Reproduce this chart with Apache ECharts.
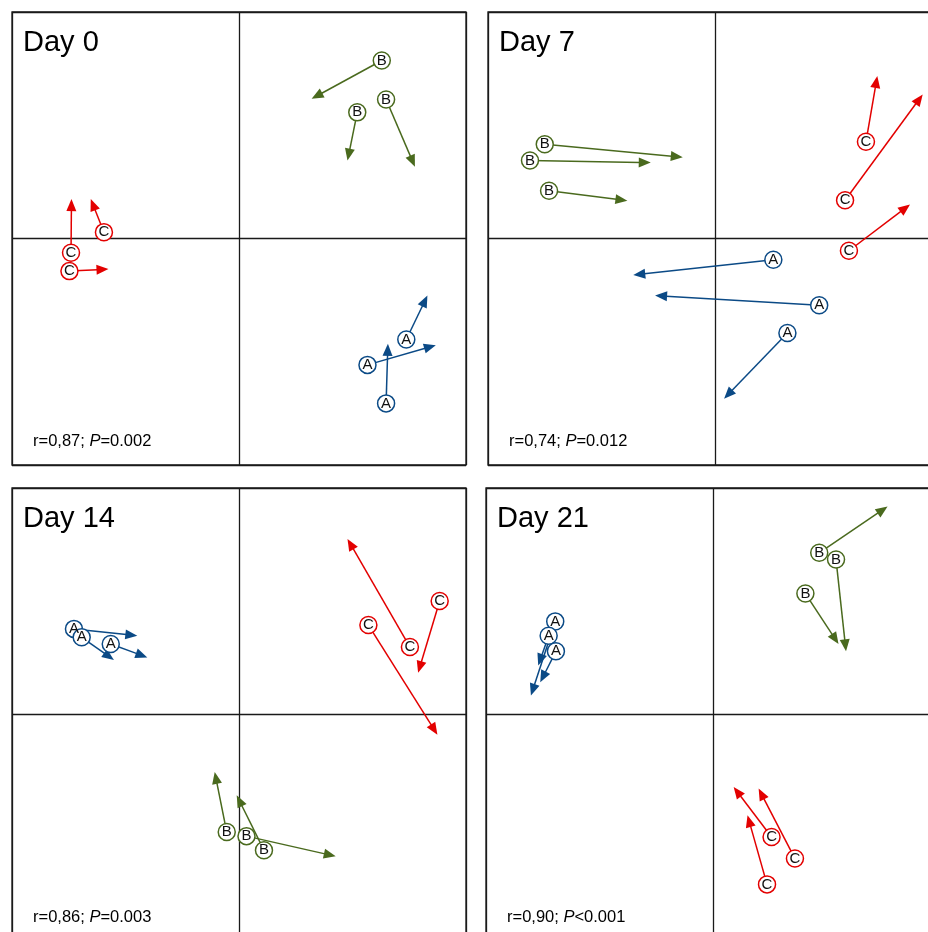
<!DOCTYPE html>
<html>
<head>
<meta charset="utf-8">
<script src="https://cdn.jsdelivr.net/npm/echarts@6/dist/echarts.min.js"></script>
<style>
html,body{margin:0;padding:0;background:#fff;overflow:hidden;width:928px;height:932px;}
#chart{width:950px;height:950px;}
</style>
</head>
<body>
<div id="chart"></div>
<script>
// Panel titles and statistics
const panelTitles = ['Day 0', 'Day 7', 'Day 14', 'Day 21'];
const statR = ['0,87', '0,74', '0,86', '0,90'];
const statP = ['=0.002', '=0.012', '=0.003', '<0.001'];
const groupLabels = ['A', 'B', 'C'];

// Each arrow: [startX, startY, endX, endY] (ordination units)
const day0A = [[7.37,-4.46, 8.30,-2.52], [5.66,-5.58, 8.67,-4.71], [6.48,-7.28, 6.56,-4.65]];
const day0B = [[6.29,7.86, 3.20,6.17], [5.21,5.57, 4.78,3.44], [6.48,6.14, 7.75,3.17]];
const day0C = [[-5.95,0.28, -6.53,1.74], [-7.40,-0.63, -7.38,1.74], [-7.47,-1.44, -5.75,-1.35]];

const day7A = [[2.57,-0.94, -3.60,-1.61], [4.59,-2.95, -2.64,-2.52], [3.19,-4.17, 0.40,-7.07]];
const day7B = [[-7.50,4.16, -1.42,3.59], [-8.15,3.44, -2.83,3.35], [-7.31,2.11, -3.86,1.67]];
const day7C = [[6.65,4.27, 7.15,7.17], [5.73,1.69, 9.15,6.36], [5.90,-0.54, 8.59,1.50]];

const day14A = [[-7.27,3.78, -4.48,3.48], [-6.93,3.41, -5.51,2.41], [-5.65,3.11, -4.04,2.52]];
const day14B = [[-0.54,-5.19, -1.07,-2.54], [0.33,-5.37, 4.26,-6.26], [1.10,-5.99, -0.10,-3.57]];
const day14C = [[8.84,5.01, 7.89,1.84], [7.53,2.98, 4.78,7.75], [5.70,3.95, 8.74,-0.89]];

const day21A = [[-6.95,4.11, -8.02,0.84], [-7.24,3.48, -7.70,2.16], [-6.92,2.79, -7.61,1.42]];
const day21B = [[4.68,7.14, 7.69,9.18], [5.42,6.84, 5.86,2.79], [4.07,5.34, 5.53,3.11]];
const day21C = [[2.58,-5.41, 0.91,-3.20], [3.61,-6.36, 2.01,-3.27], [2.38,-7.50, 1.52,-4.45]];

const axisMin = -10, axisMax = 10, axisInterval = 10;

const panelData = [
  [day0A, day0B, day0C],
  [day7A, day7B, day7C],
  [day14A, day14B, day14C],
  [day21A, day21B, day21C]
];
const groupColors = ['#0b4a86', '#4a6a1e', '#e30000'];

const gridPos = [
  {left: 12, top: 12},
  {left: 488, top: 12},
  {left: 12, top: 488},
  {left: 486, top: 488}
];
const boxW = 454, boxH = 453;
const fontFam = '"Liberation Sans", Arial, sans-serif';

const grids = [], xAxes = [], yAxes = [], series = [], graphics = [];

gridPos.forEach((g, i) => {
  grids.push({left: g.left, top: g.top, width: boxW, height: boxH, show: true,
    borderColor: '#1a1a1a', borderWidth: 1.3, backgroundColor: 'transparent',
    containLabel: false, outerBoundsMode: 'none'});
  const ax = {
    type: 'value', gridIndex: i, min: axisMin, max: axisMax, interval: axisInterval,
    axisLine: {show: false}, axisTick: {show: false}, axisLabel: {show: false},
    splitLine: {show: true, lineStyle: {color: '#1a1a1a', width: 1.3}}
  };
  xAxes.push(Object.assign({}, ax));
  yAxes.push(Object.assign({}, ax));

  panelData[i].forEach((arr, gi) => {
    const color = groupColors[gi];
    series.push({
      type: 'custom', xAxisIndex: i, yAxisIndex: i, z: 2, silent: true,
      data: arr,
      renderItem: function (params, api) {
        const p0 = api.coord([api.value(0), api.value(1)]);
        const p1 = api.coord([api.value(2), api.value(3)]);
        const dx = p1[0] - p0[0], dy = p1[1] - p0[1];
        const L = Math.hypot(dx, dy) || 1;
        const ux = dx / L, uy = dy / L;
        const hl = 12, hw = 5;
        const bx = p1[0] - ux * hl, by = p1[1] - uy * hl;
        return {
          type: 'group',
          children: [
            {type: 'line', shape: {x1: p0[0], y1: p0[1], x2: bx + ux * 1, y2: by + uy * 1},
              style: {stroke: color, lineWidth: 1.5}},
            {type: 'polygon', shape: {points: [[p1[0], p1[1]], [bx - uy * hw, by + ux * hw], [bx + uy * hw, by - ux * hw]]},
              style: {fill: color}}
          ]
        };
      }
    });
  });
  panelData[i].forEach((arr, gi) => {
    const color = groupColors[gi];
    series.push({
      type: 'scatter', xAxisIndex: i, yAxisIndex: i, z: 3, silent: true,
      symbol: 'circle', symbolSize: 17,
      itemStyle: {color: '#fff', borderColor: color, borderWidth: 1.5, opacity: 1},
      label: {show: true, position: 'inside', formatter: groupLabels[gi], color: '#111',
        fontSize: 15, fontFamily: fontFam},
      data: arr.map(d => [d[0], d[1]])
    });
  });

  graphics.push({
    type: 'text', x: g.left + 11, y: g.top + 31, silent: true, z: 10,
    style: {text: panelTitles[i], fill: '#000', fontSize: 29, fontFamily: fontFam, verticalAlign: 'middle'}
  });
  graphics.push({
    type: 'text', x: g.left + 21, y: g.top + 429, silent: true, z: 10,
    style: {
      text: 'r=' + statR[i] + '; {i|P}' + statP[i], fill: '#000', fontSize: 16.5, fontFamily: fontFam,
      verticalAlign: 'middle',
      rich: {i: {fontStyle: 'italic', fontSize: 16.5, fontFamily: fontFam, fill: '#000'}}
    }
  });
});

const chart = echarts.init(document.getElementById('chart'), null, {renderer: 'canvas'});
chart.setOption({
  animation: false,
  backgroundColor: '#fff',
  grid: grids,
  xAxis: xAxes,
  yAxis: yAxes,
  series: series,
  graphic: graphics
});
</script>
</body>
</html>
